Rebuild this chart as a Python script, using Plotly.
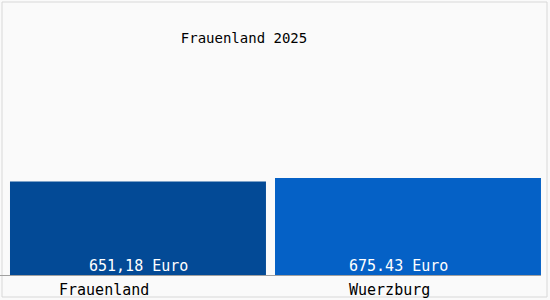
import plotly.graph_objects as go

categories = ["Frauenland", "Wuerzburg"]
values = [651.18, 675.43]
value_labels = ["651,18 Euro", "675.43 Euro"]
title_text = "Frauenland 2025"

bar_colors = ["#034a96", "#0561c6"]
bar_widths = [0.948, 0.985]
value_xshift = [0.5, -9]
cat_xshift = [-34, -18]

W, H = 550, 300
plot_w = 541
ml, mt, mb = 0, 0, 25

fig = go.Figure()
fig.add_trace(go.Bar(
    x=categories, y=values, marker=dict(color=bar_colors, line=dict(width=0)),
    width=bar_widths, hoverinfo="skip",
))

font_family = "DejaVu Sans Mono"
for i, (c, lab) in enumerate(zip(categories, value_labels)):
    fig.add_annotation(x=c, y=0, text=lab, showarrow=False, xref="x", yref="y",
                       yanchor="bottom", yshift=-2, xshift=value_xshift[i],
                       font=dict(family=font_family, size=15, color="white"))
    fig.add_annotation(x=c, y=0, text=c, showarrow=False, xref="x", yref="y",
                       yanchor="top", yshift=-4, xshift=cat_xshift[i],
                       font=dict(family=font_family, size=15, color="black"))

# frame
fig.add_shape(type="rect", xref="paper", yref="paper",
              x0=2 / plot_w, x1=547 / plot_w, y0=(275 - 297) / 275, y1=(275 - 2) / 275,
              line=dict(color="#d8d8d8", width=1), fillcolor="rgba(0,0,0,0)", layer="below")

fig.update_layout(
    width=W, height=H,
    margin=dict(l=ml, r=W - plot_w, t=mt, b=mb, pad=0),
    paper_bgcolor="#fafafa", plot_bgcolor="#fafafa",
    showlegend=False,
    title=dict(text=title_text, x=244 / W, xanchor="center", y=1 - 38 / H, yanchor="middle",
               xref="container", yref="container",
               font=dict(family=font_family, size=14, color="black")),
    xaxis=dict(type="category", range=[-0.511, 1.4926], showticklabels=False, showgrid=False,
               showline=True, linecolor="#a0a0a0", linewidth=1, ticks="", zeroline=False,
               fixedrange=True),
    yaxis=dict(range=[0, 1915], visible=False, fixedrange=True),
)

fig.write_html("out.html", config={"displayModeBar": False})
